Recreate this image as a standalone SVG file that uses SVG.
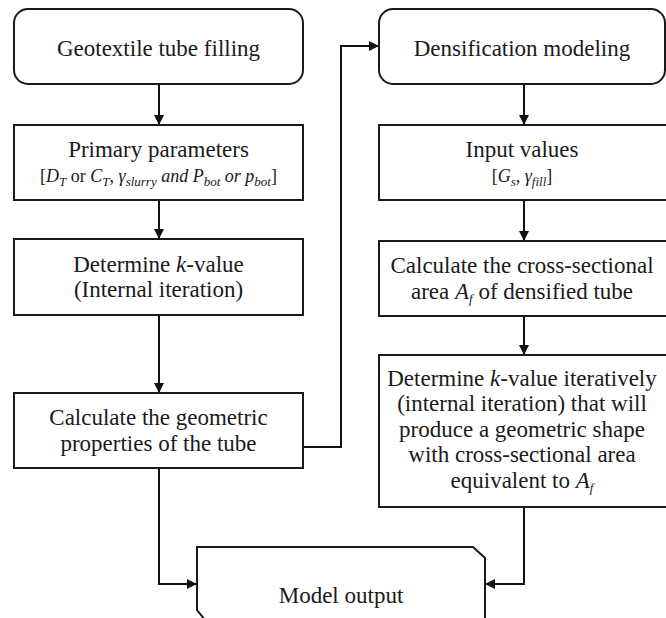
<svg xmlns="http://www.w3.org/2000/svg" width="666" height="618" viewBox="0 0 666 618">
<defs>
<marker id="ah" viewBox="0 0 10 10" refX="10" refY="5" markerWidth="10" markerHeight="10" markerUnits="userSpaceOnUse" orient="auto">
<path d="M0,0 L10,5 L0,10 Z" fill="#111"/>
</marker>
<style>
.box{fill:#fff;stroke:#1a1a1a;stroke-width:2}
.t{font-family:"Liberation Serif","Times New Roman",serif;font-size:23px;fill:#1a1a1a;text-anchor:middle}
.s{font-size:18px}
.i{font-style:italic}
.sub{font-size:13px;font-style:italic}
.c{fill:none;stroke:#111;stroke-width:2}
</style>
</defs>
<rect width="666" height="618" fill="#fff"/>
<g id="connectors">
<path class="c" d="M159,84 V125" marker-end="url(#ah)"/>
<path class="c" d="M159,200 V239" marker-end="url(#ah)"/>
<path class="c" d="M159,315 V393" marker-end="url(#ah)"/>
<path class="c" d="M303,447 H341 V46 H379" marker-end="url(#ah)"/>
<path class="c" d="M524,84 V125" marker-end="url(#ah)"/>
<path class="c" d="M524,200 V241" marker-end="url(#ah)"/>
<path class="c" d="M524,316 V355" marker-end="url(#ah)"/>
<path class="c" d="M159,468 V584 H197" marker-end="url(#ah)"/>
<path class="c" d="M524,507 V584 H485" marker-end="url(#ah)"/>
</g>
<g id="n1">
<rect class="box" x="14" y="9" width="289" height="75" rx="14"/>
<text class="t" x="158.5" y="56">Geotextile tube filling</text>
</g>
<g id="n2">
<rect class="box" x="14" y="125" width="289" height="75"/>
<text class="t" x="158.5" y="157">Primary parameters</text>
<text class="t s" x="158.5" y="182">[<tspan class="i">D</tspan><tspan class="sub" dy="4">T</tspan><tspan dy="-4"> or </tspan><tspan class="i">C</tspan><tspan class="sub" dy="4">T</tspan><tspan dy="-4">, </tspan><tspan class="i">γ</tspan><tspan class="sub" dy="4">slurry</tspan><tspan class="i" dy="-4"> and P</tspan><tspan class="sub" dy="4">bot</tspan><tspan class="i" dy="-4"> or p</tspan><tspan class="sub" dy="4">bot</tspan><tspan dy="-4">]</tspan></text>
</g>
<g id="n3">
<rect class="box" x="14" y="239" width="289" height="76"/>
<text class="t" x="158.5" y="272">Determine <tspan class="i">k</tspan>-value</text>
<text class="t" x="158.5" y="297">(Internal iteration)</text>
</g>
<g id="n4">
<rect class="box" x="14" y="393" width="289" height="75"/>
<text class="t" x="158.5" y="425">Calculate the geometric</text>
<text class="t" x="158.5" y="451">properties of the tube</text>
</g>
<g id="n5">
<rect class="box" x="379" y="9" width="286" height="75" rx="14"/>
<text class="t" x="522" y="56">Densification modeling</text>
</g>
<g id="n6">
<rect class="box" x="379" y="125" width="288" height="75"/>
<text class="t" x="522" y="157">Input values</text>
<text class="t s" x="522" y="182">[<tspan class="i">G</tspan><tspan class="sub" dy="4">s</tspan><tspan dy="-4">, </tspan><tspan class="i">γ</tspan><tspan class="sub" dy="4">fill</tspan><tspan dy="-4">]</tspan></text>
</g>
<g id="n7">
<rect class="box" x="379" y="241" width="288" height="75"/>
<text class="t" x="522" y="273">Calculate the cross-sectional</text>
<text class="t" x="522" y="299">area <tspan class="i">A</tspan><tspan class="sub" dy="4">f</tspan><tspan dy="-4"> of densified tube</tspan></text>
</g>
<g id="n8">
<rect class="box" x="379" y="355" width="288" height="152"/>
<text class="t" x="522" y="386">Determine <tspan class="i">k</tspan>-value iteratively</text>
<text class="t" x="522" y="411">(internal iteration) that will</text>
<text class="t" x="522" y="437">produce a geometric shape</text>
<text class="t" x="522" y="462">with cross-sectional area</text>
<text class="t" x="522" y="488">equivalent to <tspan class="i">A</tspan><tspan class="sub" dy="4">f</tspan></text>
</g>
<g id="n9">
<path class="box" d="M205,620 L197,610 V547 H473 L485,558 V620"/>
<text class="t" x="341" y="603">Model output</text>
</g>
</svg>
